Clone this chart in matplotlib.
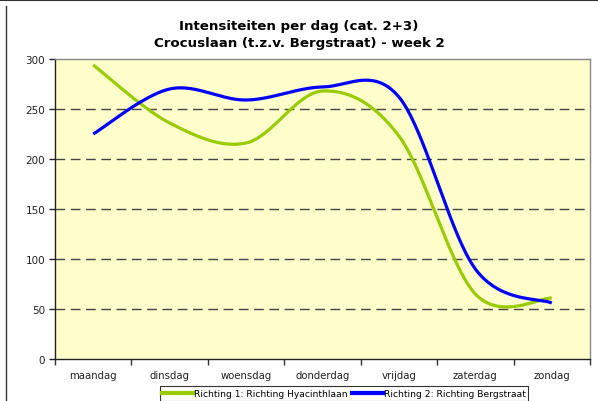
import numpy as np
import matplotlib
matplotlib.use("Agg")
import matplotlib.pyplot as plt
from matplotlib.lines import Line2D

# data
dagen = ["maandag", "dinsdag", "woensdag", "donderdag", "vrijdag", "zaterdag", "zondag"]
richting1 = [294, 236, 216, 268, 223, 65, 61]   # Richting Hyacinthlaan
richting2 = [225, 270, 259, 272, 262, 90, 56]   # Richting Bergstraat
label1 = "Richting 1: Richting Hyacinthlaan"
label2 = "Richting 2: Richting Bergstraat"

titel = "Intensiteiten per dag (cat. 2+3)\nCrocuslaan (t.z.v. Bergstraat) - week 2"


def excel_smooth(x, y, n=40):
    # Catmull-Rom style bezier smoothing, like Excel's "smoothed line"
    x = np.asarray(x, float)
    y = np.asarray(y, float)
    px = np.concatenate([[x[0]], x, [x[-1]]])
    py = np.concatenate([[y[0]], y, [y[-1]]])
    t = np.linspace(0, 1, n)
    xs, ys = [], []
    for i in range(1, len(px) - 2):
        p0 = np.array([px[i], py[i]])
        p3 = np.array([px[i + 1], py[i + 1]])
        c1 = p0 + (np.array([px[i + 1], py[i + 1]]) - np.array([px[i - 1], py[i - 1]])) / 6
        c2 = p3 - (np.array([px[i + 2], py[i + 2]]) - np.array([px[i], py[i]])) / 6
        b = ((1 - t) ** 3)[:, None] * p0 + (3 * (1 - t) ** 2 * t)[:, None] * c1 \
            + (3 * (1 - t) * t ** 2)[:, None] * c2 + (t ** 3)[:, None] * p3
        xs.append(b[:, 0])
        ys.append(b[:, 1])
    return np.concatenate(xs), np.concatenate(ys)


fig = plt.figure(figsize=(5.98, 4.02), dpi=100)
ax = fig.add_axes([55 / 598, 1 - 360 / 402, 535 / 598, 300 / 402])
ax.set_facecolor("#FFFFCC")

x = np.arange(len(dagen))
gx, gy = excel_smooth(x, richting1)
bx, by = excel_smooth(x, richting2)
ax.plot(gx, gy, color="#99CC00", lw=2.3, solid_capstyle="butt", zorder=3)
ax.plot(bx, by, color="#0000FF", lw=2.3, solid_capstyle="butt", zorder=4)

ax.set_xlim(-0.5, len(dagen) - 0.5)
ax.set_ylim(0, 300)
ax.set_yticks(range(0, 301, 50))
ax.set_xticks(x)
ax.set_xticklabels(dagen)
ax.set_xticks(np.arange(-0.5, len(dagen), 1), minor=True)
ax.tick_params(axis="x", which="major", length=0, pad=8, labelsize=7.3, colors="#222222")
ax.tick_params(axis="x", which="minor", length=4, direction="out", width=1, color="#333333")
ax.tick_params(axis="y", length=4, direction="out", width=1, labelsize=7.5,
               colors="#222222", pad=3)

for v in range(50, 300, 50):
    ax.axhline(v, color="#444444", lw=1, dashes=(7, 4), zorder=1)

for s in ["top", "right"]:
    ax.spines[s].set_color("#888888")
for s in ["left", "bottom"]:
    ax.spines[s].set_color("#222222")
for s in ax.spines.values():
    s.set_linewidth(1)

fig.text(0.5, 1 - 35 / 402, titel, ha="center", va="center", fontsize=9.6,
         fontweight="bold", linespacing=1.4)

handles = [Line2D([], [], color="#99CC00", lw=3), Line2D([], [], color="#0000FF", lw=3)]
leg = fig.legend(handles, [label1, label2], loc="upper center",
                 bbox_to_anchor=(344 / 598, 1 - 387 / 402), ncol=2, fontsize=6.6,
                 frameon=True, fancybox=False, handlelength=3.4, handletextpad=0.1,
                 columnspacing=0.4, borderpad=0.3, borderaxespad=0)
leg.get_frame().set_edgecolor("#000000")
leg.get_frame().set_linewidth(0.8)

# outer chart frame
fig.add_artist(Line2D([0, 1], [1 - 1 / 402, 1 - 1 / 402], color="#333333", lw=1.5))
fig.add_artist(Line2D([6 / 598, 6 / 598], [0, 1 - 7 / 402], color="#333333", lw=1))

fig.savefig("out.png", dpi=100)
